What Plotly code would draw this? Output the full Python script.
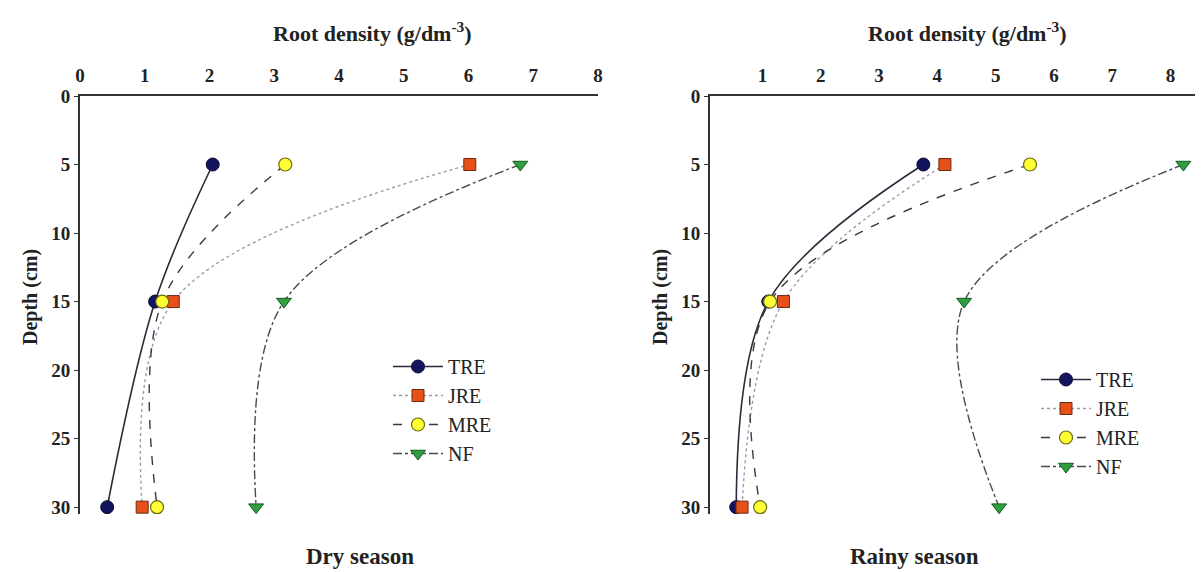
import plotly.graph_objects as go

depth = [5, 15, 30]
series = ["TRE", "JRE", "MRE", "NF"]

dry_TRE = [2.05, 1.16, 0.42]
dry_JRE = [6.02, 1.44, 0.96]
dry_MRE = [3.17, 1.27, 1.19]
dry_NF = [6.80, 3.15, 2.72]

rainy_TRE = [3.76, 1.10, 0.55]
rainy_JRE = [4.13, 1.36, 0.65]
rainy_MRE = [5.59, 1.13, 0.96]
rainy_NF = [8.22, 4.46, 5.06]

x_ticks_dry = [0, 1, 2, 3, 4, 5, 6, 7, 8]
x_ticks_rainy = [1, 2, 3, 4, 5, 6, 7, 8]
y_ticks = [0, 5, 10, 15, 20, 25, 30]

styles = {
    "TRE": dict(line=dict(color="#2a2a3a", width=1.6, dash="solid"),
                marker=dict(symbol="circle", size=13, color="#14145e", line=dict(color="#0a0a30", width=1))),
    "JRE": dict(line=dict(color="#9a9aa8", width=1.4, dash="dot"),
                marker=dict(symbol="square", size=12, color="#e8501a", line=dict(color="#6a2a10", width=1))),
    "MRE": dict(line=dict(color="#3a3a3a", width=1.4, dash="dash"),
                marker=dict(symbol="circle", size=13, color="#ffff33", line=dict(color="#6a6a10", width=1.2))),
    "NF": dict(line=dict(color="#4a4a4a", width=1.4, dash="dashdot"),
               marker=dict(symbol="triangle-down", size=13, color="#2e9e3e", line=dict(color="#1a5a20", width=1))),
}

dry = {"TRE": dry_TRE, "JRE": dry_JRE, "MRE": dry_MRE, "NF": dry_NF}
rainy = {"TRE": rainy_TRE, "JRE": rainy_JRE, "MRE": rainy_MRE, "NF": rainy_NF}

fig = go.Figure()
for s in series:
    st = styles[s]
    fig.add_trace(go.Scatter(x=dry[s], y=depth, name=s, mode="lines+markers",
                             line=dict(shape="spline", **st["line"]), marker=st["marker"],
                             xaxis="x", yaxis="y", legend="legend"))
for s in series:
    st = styles[s]
    fig.add_trace(go.Scatter(x=rainy[s], y=depth, name=s, mode="lines+markers",
                             line=dict(shape="spline", **st["line"]), marker=st["marker"],
                             xaxis="x2", yaxis="y2", legend="legend2"))

W, H = 1201, 572
SERIF = "Liberation Serif"
INK = "#222"

def px(x):
    return x / W

def py(y):
    return 1 - y / H

axis_common = dict(showline=True, linecolor="#333", linewidth=2, showgrid=False, zeroline=False,
                   automargin=False,
                   tickfont=dict(family=SERIF, size=19, color=INK))

legend_font = dict(family=SERIF, size=20, color=INK)
title_font = dict(family=SERIF, size=22, color=INK)


def note(text, x, y, size, angle=0):
    return dict(text=text, x=px(x), y=py(y), xref="paper", yref="paper", xanchor="center",
                yanchor="middle", textangle=angle, showarrow=False,
                font=dict(family=SERIF, size=size, color=INK))


fig.update_layout(
    width=W, height=H,
    paper_bgcolor="white", plot_bgcolor="white",
    margin=dict(l=0, r=0, t=0, b=0, autoexpand=False),
    font=dict(family=SERIF, size=16, color=INK),
    xaxis=dict(domain=[px(80), px(598)], range=[0, 8], side="top", anchor="y",
               tickvals=x_ticks_dry, ticktext=[f"<b>{v}</b>" for v in x_ticks_dry],
               ticks="", ticklabelstandoff=4, **axis_common),
    yaxis=dict(domain=[py(514), py(96)], range=[30.5, 0], anchor="x",
               tickvals=y_ticks, ticktext=[f"<b>{v}</b>" for v in y_ticks],
               ticks="outside", ticklen=4, tickcolor="#333", **axis_common),
    xaxis2=dict(domain=[px(710), px(1195)], range=[0.1, 8.42], side="top", anchor="y2",
                tickvals=x_ticks_rainy, ticktext=[f"<b>{v}</b>" for v in x_ticks_rainy],
                ticks="", ticklabelstandoff=4, **axis_common),
    yaxis2=dict(domain=[py(514), py(96)], range=[30.5, 0], anchor="x2",
                tickvals=y_ticks, ticktext=[f"<b>{v}</b>" for v in y_ticks],
                ticks="outside", ticklen=4, tickcolor="#333", **axis_common),
    legend=dict(x=px(388), y=py(347), xanchor="left", yanchor="top",
                bgcolor="rgba(255,255,255,0)", font=legend_font,
                tracegroupgap=0, itemwidth=50),
    legend2=dict(x=px(1036), y=py(360), xanchor="left", yanchor="top",
                 bgcolor="rgba(255,255,255,0)", font=legend_font,
                 tracegroupgap=0, itemwidth=50),
    annotations=[
        note("<b>Root density (g/dm<sup>-3</sup>)</b>", 372, 32, 22),
        note("<b>Root density (g/dm<sup>-3</sup>)</b>", 967, 32, 22),
        note("<b>Depth (cm)</b>", 30, 297, 20, -90),
        note("<b>Depth (cm)</b>", 660, 297, 20, -90),
        note("<b>Dry season</b>", 360, 556, 23),
        note("<b>Rainy season</b>", 914, 556, 23),
    ],
)

fig.write_html("out.html", config={"displayModeBar": False},
               post_script="document.body.style.margin='0';document.body.style.overflow='hidden';")
